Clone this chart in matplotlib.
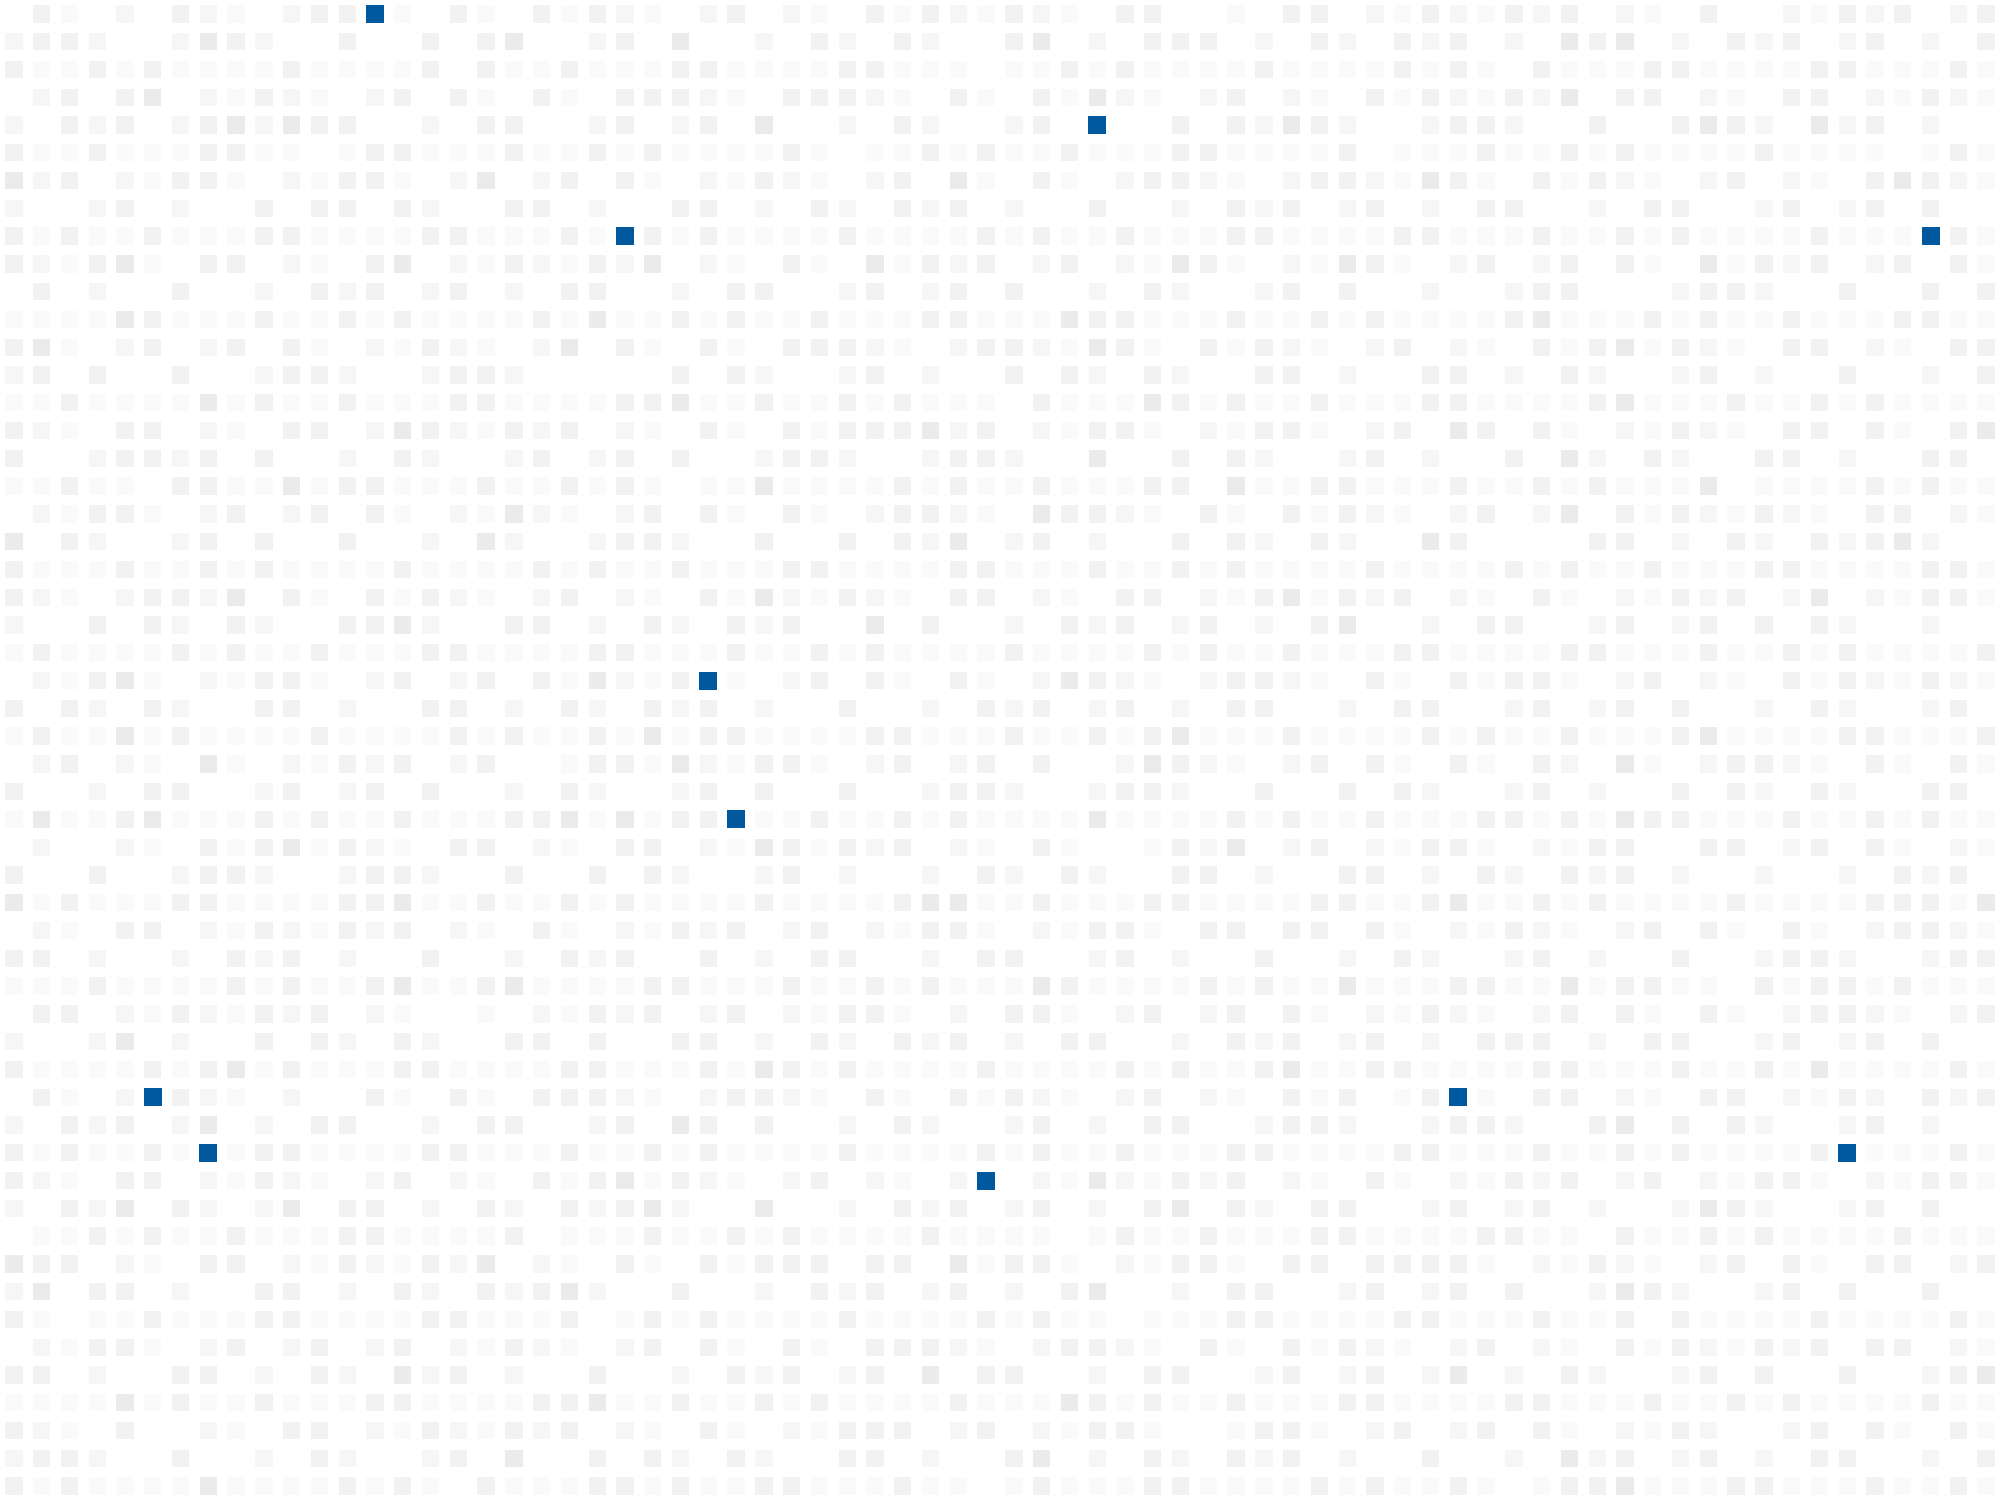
import numpy as np
import matplotlib
matplotlib.use("Agg")
import matplotlib.pyplot as plt
from matplotlib.colors import ListedColormap, BoundaryNorm

# cell levels: 0 = empty, 1..4 = light to darker grey, B = highlighted
rows = [
    "0310203210233B1031031321" "023021031321321033001033" "021321323021030021323023",
    "233200243200300303400230" "400203203200340203330203" "203230204340203230230203",
    "311313111131111303113111" "331111331110113131111311" "113131031113311113311131",
    "023034021321023031031033" "321033321031031421023021" "031321324033021033021321",
    "203230234243300203300230" "230400203200230B00303243" "200233200300343204230200",
    "311311133110133111311313" "111131011313113111331111" "301113113131111311110131",
    "423021331021331024023031" "021321023041031023321023" "321431031321023021034321",
    "200230200303303200330200" "330203203230200300203230" "230203300203300230230300",
    "3131131113311113311131B3" "131111311113131131113311" "113311131131311113111B31",
    "321341033021034021321324" "021031041323023021431021" "431023023031041323023031",
    "030200300203230230203300" "203300230230300203200230" "300200233000233200300303",
    "111143111311313111131411" "313113111331114331113113" "131111341113131131113311",
    "341023023031021321024031" "031033321023321431031321" "023021031341321033021033",
    "230300300233200233200000" "303200230200303203200330" "200330203200230200300203",
    "113111141311311133111133" "411311313111031114313113" "111331111341113113131111",
    "321033021033024321323021" "031031333423021331021331" "023043031021321033031034",
    "300233230300203200230230" "300233200233200400303200" "230200304203200330200330",
    "113110331141331113113131" "011411113131131113304113" "311131131311140111131311",
    "021331023023031021421023" "031031023321043321031031" "321023024031321321033021",
    "403200230300300204200233" "200300303240230200303203" "200430000330203203234200",
    "311131131311113111131311" "311133111133111311313111" "131111313113111331111331",
    "321023324031031321023021" "031421321033021033021341" "323021031021323024021331",
    "200303203200334200330203" "203230040300203230230203" "400203300230230303200200",
    "131111313113111331111331" "113113131111311113131131" "113311113311131131311113",
    "021341021331023023031421" "3B1023031031024321023321" "031031331023021031321321",
    "303203200330200330203203" "230200300203230230203300" "203300230230300203200230",
    "131141311113111131311314" "133111133111311313411131" "111313113111341111331113",
    "023021041021323023001331" "421331023023030024321023" "031031032041023321031031",
    "300203300230230300203200" "230300300233200233200300" "303200230200303203200330",
    "141134111313113111334141" "33B113113131111411113131" "131113313143311131131311",
    "020021031341321033021033" "021431323021031001324023" "021331021330033023031021",
    "300300233200233200300303" "200230200203203200330200" "330203203230200200203230",
    "413111331111334113113131" "111311113441131113311113" "311341131311113111133314",
    "021033021321323021031021" "323023021331021331033033" "031021321023031031023321",
    "330200203230200300203230" "030203300203300230200300" "203200230200300233200233",
    "111311113131134113411113" "311131131311143111131311" "411133114133110313313111",
    "033021321323021001021323" "023021331020331023023031" "021321023031031023321023",
    "200240200303203200330300" "330203203230203300203230" "230203330203300230230300",
    "311113134131113311113311" "131431311113111131311341" "133111133111311314111131",
    "03102B321020031031033321" "023321031031321023021031" "3013B1033021033021320323",
    "203230240203300203300230" "430300203200230203300233" "200233200340303200230200",
    "3131131B1331111331113113" "131111311113131131113311" "113311131131311113B11131",
    "321033021321023021031341" "32102302102B021421323021" "031021323023021331021331",
    "203240320240330203203234" "200400203230230203403203" "300230230200243200230300",
    "011313113111331111301113" "113131111311110131131113" "311113311031131311113111",
    "433021033021321324021031" "031333033041331021331033" "033331021321023031033023",
    "240330200330203203234200" "300203230230203400203300" "230230300243200230300300",
    "310113111331111331113013" "131111311113131101113311" "113311131130311113111131",
    "021331023023023021321023" "031031033321023321031031" "321023021031321323033021",
    "330200330203204230200300" "203230230403300203300230" "230240203200230300300234",
    "111141311311133111133411" "311313111131114313113111" "331111331113113131111311",
    "321030021033021321323021" "031021333023021331001331" "023023031021320023031031",
    "233200300203200230400303" "203200330200340203203230" "200300204230230203300203",
    "313111141111313103111331" "311331113110131113311113" "131131013341113311131131",
]

grey_levels = [1, 2, 3, 4]
grey_colors = ["#fafafa", "#f6f6f6", "#f2f2f2", "#ebebeb"]
highlight_color = "#00589e"

n_rows = len(rows)
n_cols = max(len(r) for r in rows)

grid = np.zeros((n_rows, n_cols))
hi_r, hi_c = [], []
for i, r in enumerate(rows):
    for j, ch in enumerate(r):
        if ch == "B":
            hi_r.append(i)
            hi_c.append(j)
        else:
            grid[i, j] = int(ch)

fig = plt.figure(figsize=(20, 15), dpi=100)
ax = fig.add_axes([0, 0, 1, 1])

yy, xx = np.nonzero(grid)
vals = grid[yy, xx]

cmap = ListedColormap(grey_colors)
norm = BoundaryNorm([0.5, 1.5, 2.5, 3.5, 4.5], cmap.N)

# one cell is 2000/72 px = 20 pt; the squares fill a bit over 60% of it
cell_pt = 72.0 * 20 / n_cols
side = 0.625 * cell_pt

ax.scatter(xx, yy, c=vals, cmap=cmap, norm=norm, marker="s", s=side ** 2, linewidths=0)
ax.scatter(hi_c, hi_r, color=highlight_color, marker="s", s=side ** 2, linewidths=0)

ax.set_xlim(-0.5, n_cols - 0.5)
ax.set_ylim(n_rows - 0.5, -0.5)
ax.axis("off")

fig.savefig("out.png", dpi=100, facecolor="white")
